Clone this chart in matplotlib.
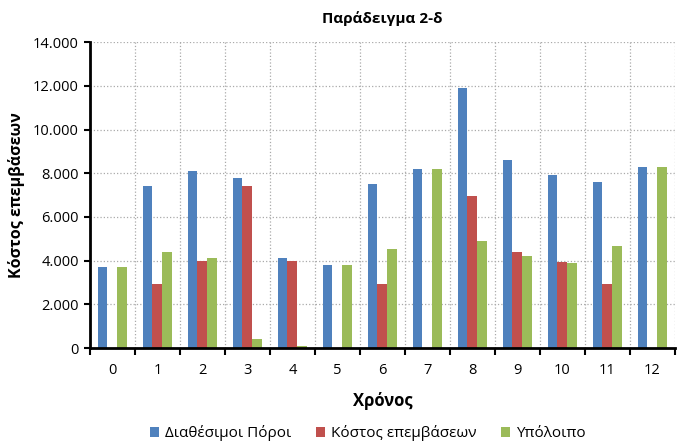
import numpy as np
import matplotlib
matplotlib.use('Agg')
import matplotlib.pyplot as plt
from matplotlib.ticker import FuncFormatter, MultipleLocator

years = list(range(13))
poroi = [3700, 7400, 8100, 7800, 4100, 3800, 7500, 8200, 11900, 8600, 7900, 7600, 8300]
kostos = [0, 2950, 4000, 7400, 4000, 0, 2950, 0, 6950, 4400, 3950, 2950, 0]
ypoloipo = [3700, 4400, 4100, 400, 100, 3800, 4550, 8200, 4900, 4200, 3900, 4650, 8300]
names = ['Διαθέσιμοι Πόροι', 'Κόστος επεμβάσεων', 'Υπόλοιπο']
colors = ['#4F81BD', '#C0504D', '#9BBB59']

plt.rcParams['font.family'] = ['Open Sans', 'DejaVu Sans']

fig = plt.figure(figsize=(6.81, 4.48), dpi=100)
ax = fig.add_axes([0.132, 0.223, 0.859, 0.683])

x = np.arange(len(years))
w = 0.22
for i, (vals, name, c) in enumerate(zip([poroi, kostos, ypoloipo], names, colors)):
    ax.bar(x + (i - 1) * w, vals, w, color=c, label=name, zorder=3)

ax.set_xlim(-0.5, 12.5)
ax.set_ylim(0, 14000)
ax.yaxis.set_major_locator(MultipleLocator(2000))
ax.yaxis.set_major_formatter(FuncFormatter(lambda v, p: f'{int(v):,}'.replace(',', '.')))
ax.set_xticks(x)
ax.set_xticklabels([str(y) for y in years])
ax.set_xticks(np.arange(-0.5, 13, 1), minor=True)
ax.tick_params(axis='x', which='major', length=0, pad=11, labelsize=10.5)
ax.tick_params(axis='x', which='minor', length=5, width=1.5, direction='out')
ax.tick_params(axis='y', length=4, width=1.5, direction='out', labelsize=10.5, pad=4)

ax.grid(True, axis='y', which='major', color='#AAAAAA', linestyle=':', linewidth=0.9, zorder=0)
ax.grid(True, axis='x', which='minor', color='#AAAAAA', linestyle=':', linewidth=0.9, zorder=0)

for s in ['top', 'right']:
    ax.spines[s].set_visible(False)
for s in ['left', 'bottom']:
    ax.spines[s].set_linewidth(2)
    ax.spines[s].set_zorder(4)

ax.set_title('Παράδειγμα 2-δ', fontsize=11, fontweight='bold', pad=14)
ax.set_xlabel('Χρόνος', fontsize=12, fontweight='bold', labelpad=10)
ax.set_ylabel('Κόστος επεμβάσεων', fontsize=11.5, fontweight='bold', labelpad=6)

fig.legend(loc='center', bbox_to_anchor=(0.54, 0.033), ncol=3, frameon=False,
           fontsize=11, handlelength=0.6, handleheight=0.6, handletextpad=0.4,
           columnspacing=1.6)

fig.savefig('out.png', dpi=100)
